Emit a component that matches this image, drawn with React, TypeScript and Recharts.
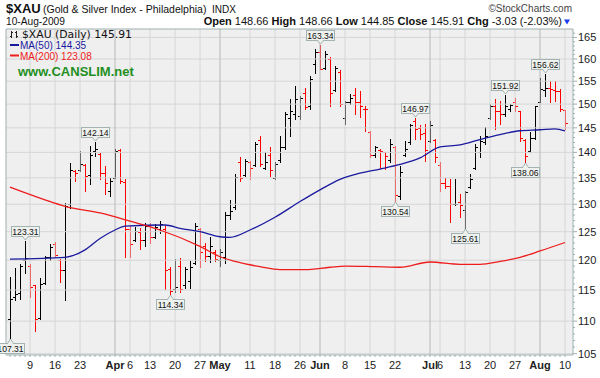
import React from 'react'
import { ComposedChart, Bar, Line, XAxis, YAxis, ReferenceLine, ReferenceArea, ReferenceDot } from 'recharts'

const FONT = "'Liberation Sans', Arial, sans-serif"
const WIDE = "'DejaVu Sans', Verdana, sans-serif"

// trading days, Mar 3 .. Aug 10 2009
const marDays = [3, 4, 5, 6, 9, 10, 11, 12, 13, 16, 17, 18, 19, 20, 23, 24, 25, 26, 27, 30, 31]
const aprDays = [1, 2, 3, 6, 7, 8, 9, 13, 14, 15, 16, 17, 20, 21, 22, 23, 24, 27, 28, 29, 30]
const mayDays = [1, 4, 5, 6, 7, 8, 11, 12, 13, 14, 15, 18, 19, 20, 21, 22, 26, 27, 28, 29]
const junDays = [1, 2, 3, 4, 5, 8, 9, 10, 11, 12, 15, 16, 17, 18, 19, 22, 23, 24, 25, 26, 29, 30]
const julDays = [1, 2, 6, 7, 8, 9, 10, 13, 14, 15, 16, 17, 20, 21, 22, 23, 24, 27, 28, 29, 30, 31]
const augDays = [3, 4, 5, 6, 7, 10]

const opens = [
  110.3, 113.9, 114.5, 120.0, 119.1, 115.8, 110.5, 116.2, 120.6, 122.9, 120.1, 118.4, 130.0, 136.3, 136.5, 137.5, 135.5, 140.2, 139.6, 136.0, 132.5,
  135.0, 140.4, 134.2, 125.5, 123.6, 125.0, 123.5, 126.0, 124.0, 125.5, 125.5, 118.5, 115.2, 119.0, 115.8, 116.5, 119.5, 125.5, 122.5, 120.8, 121.5,
  120.0, 120.5, 128.0, 129.5, 138.0, 135.5, 138.0, 137.5, 142.5, 137.0, 139.5, 135.0, 138.5, 141.0, 147.0, 148.0, 147.5, 152.5, 149.5, 158.8,
  161.5, 158.0, 160.0, 153.0, 157.0, 147.0, 150.5, 152.0, 150.5, 149.0, 144.1, 139.5, 140.5, 140.0, 138.5, 141.0, 131.5, 139.5, 142.0, 146.5, 145.0, 144.0,
  142.3, 142.5, 137.5, 134.0, 133.5, 130.0, 130.5, 129.0, 133.3, 137.0, 140.0, 142.0, 147.0, 149.5, 148.5, 148.0, 149.0, 150.5, 148.5, 142.5, 140.3, 143.0,
  150.5, 153.0, 153.5, 153.0, 152.8, 148.66,
]
const highs = [
  117.2, 118.7, 119.3, 123.31, 119.3, 115.9, 117.0, 120.7, 122.9, 123.2, 120.2, 130.2, 137.9, 136.6, 140.2, 137.6, 141.2, 142.14, 139.8, 137.3, 135.0,
  140.6, 140.6, 134.7, 126.0, 125.9, 125.6, 126.5, 126.5, 126.4, 127.0, 126.0, 118.8, 120.2, 120.4, 118.9, 119.8, 126.6, 125.6, 123.0, 124.1, 121.8,
  122.0, 128.5, 130.8, 135.7, 139.0, 138.6, 138.3, 142.0, 143.4, 140.0, 141.0, 138.0, 143.4, 148.3, 151.1, 153.9, 151.8, 153.6, 156.1, 162.2,
  163.34, 161.8, 160.4, 158.4, 157.5, 150.7, 152.1, 153.6, 152.8, 149.7, 144.4, 141.3, 140.7, 140.0, 142.7, 141.3, 137.3, 142.3, 145.8, 146.97, 145.5, 145.8,
  146.5, 142.7, 138.0, 135.0, 134.7, 134.7, 131.9, 132.5, 135.8, 141.7, 143.4, 145.2, 150.0, 151.1, 150.7, 151.92, 150.0, 151.4, 148.6, 142.7, 144.1, 149.7,
  155.8, 156.62, 155.0, 155.0, 153.2, 148.66,
]
const lows = [
  107.31, 113.4, 113.6, 117.9, 113.9, 108.5, 110.4, 116.0, 120.1, 120.7, 116.4, 113.4, 129.3, 134.4, 136.3, 132.5, 133.8, 139.2, 134.7, 131.9, 131.6,
  134.9, 134.0, 120.6, 120.6, 123.4, 122.0, 122.5, 123.0, 123.8, 124.8, 115.2, 114.34, 114.7, 114.6, 115.4, 115.4, 119.3, 118.9, 119.8, 119.7, 119.9,
  119.1, 119.5, 127.3, 129.1, 134.3, 135.4, 134.7, 137.3, 137.3, 136.7, 135.4, 134.7, 138.0, 140.7, 143.4, 146.8, 146.8, 149.0, 149.0, 156.9,
  157.8, 157.8, 149.7, 152.8, 149.7, 145.8, 150.0, 147.9, 147.2, 144.4, 139.0, 139.0, 137.0, 136.7, 138.0, 130.54, 131.0, 139.3, 141.7, 142.7, 142.7, 138.3,
  142.0, 138.0, 132.5, 133.0, 126.8, 129.8, 127.7, 125.61, 133.0, 136.7, 139.0, 141.7, 146.8, 144.8, 145.8, 147.5, 148.6, 148.6, 142.3, 138.06, 140.0, 142.7,
  150.4, 151.8, 150.4, 150.7, 148.6, 144.85,
]
const closes = [
  113.5, 114.3, 119.0, 120.3, 115.5, 110.3, 116.0, 120.5, 122.3, 120.9, 118.4, 129.6, 136.5, 136.0, 137.6, 135.3, 139.5, 140.6, 136.0, 134.1, 134.4,
  140.3, 134.4, 125.5, 122.9, 125.2, 123.5, 126.0, 124.0, 125.8, 126.3, 118.4, 114.8, 115.5, 115.2, 118.5, 118.9, 126.0, 121.5, 120.7, 122.5, 120.2,
  121.5, 128.0, 128.8, 135.2, 135.0, 138.3, 137.0, 141.7, 137.6, 138.0, 136.5, 137.6, 141.0, 147.9, 148.5, 151.1, 151.4, 149.3, 155.4, 161.5,
  157.8, 161.2, 152.5, 158.0, 150.0, 150.4, 151.4, 150.4, 149.7, 149.0, 139.5, 141.0, 140.2, 139.3, 141.7, 131.8, 136.1, 140.7, 145.5, 144.8, 143.8, 140.5,
  145.5, 139.0, 134.1, 133.5, 130.0, 130.1, 129.9, 132.2, 134.8, 141.0, 142.3, 143.4, 149.5, 148.5, 147.9, 149.7, 149.9, 149.7, 143.0, 139.3, 143.0, 149.5,
  153.2, 153.6, 153.2, 152.8, 148.94, 145.91,
]

// moving averages at sample days (day index, value)
const ma50Days = [0, 11, 15, 18, 21, 23, 31, 34, 38, 42, 44, 48, 53, 58, 62, 66, 70, 74, 78, 82, 86, 90, 94, 98, 102, 106, 109, 111]
const ma50Vals = [120.2, 120.5, 121.8, 123.8, 125.3, 126.0, 126.2, 125.6, 125.0, 124.1, 124.0, 125.3, 127.6, 130.5, 132.7, 134.7, 135.9, 136.7, 137.6, 138.9, 141.1, 141.5, 142.6, 143.6, 144.4, 144.6, 144.8, 144.35]
const ma200Days = [0, 7, 11, 18, 24, 30, 38, 42, 45, 50, 54, 59, 64, 67, 73, 78, 84, 90, 94, 98, 102, 106, 111]
const ma200Vals = [133.2, 130.8, 129.6, 128.4, 126.9, 125.3, 122.4, 120.6, 119.8, 118.9, 118.4, 118.4, 118.8, 119.0, 118.9, 118.8, 119.7, 119.3, 119.3, 119.8, 120.5, 121.6, 123.08]

const tickDays = [4, 9, 14, 21, 24, 28, 33, 38, 42, 48, 53, 58, 62, 67, 72, 77, 84, 86, 91, 96, 101, 106, 111]
const tickLabels = ['9', '16', '23', 'Apr', '6', '13', '20', '27', 'May', '11', '18', '26', 'Jun', '8', '15', '22', 'Jul', '6', '13', '20', '27', 'Aug', '10']
const monthLabels = ['Apr', 'May', 'Jun', 'Jul', 'Aug']

const priceTicks = [105, 110, 115, 120, 125, 130, 135, 140, 145, 150, 155, 160, 165]
const minorTicks = Array.from({ length: 62 }, (_, k) => 105 + k)

const peakDays = [3, 17, 62, 81, 99, 107]
const troughDays = [0, 32, 77, 91, 103]

const allDays = [...marDays, ...aprDays, ...mayDays, ...junDays, ...julDays, ...augDays]

const rows = allDays.map((_, j) => ({
  j,
  open: opens[j],
  high: highs[j],
  low: lows[j],
  close: closes[j],
  range: [lows[j], highs[j]],
  up: j === 0 || closes[j] >= closes[j - 1],
  ma50: ma50Days.includes(j) ? ma50Vals[ma50Days.indexOf(j)] : null,
  ma200: ma200Days.includes(j) ? ma200Vals[ma200Days.indexOf(j)] : null,
}))

const X_DOMAIN = [-0.8, 112.6]
const Y_DOMAIN = [104.8, 167]
const FRAME = '#9fb0b0'
const BLUE = '#1a1a9e'
const RED = '#ee1c1c'

function OhlcBar(props: any) {
  const { x, y, width, height, payload } = props
  const cx = Math.round(x + width / 2) + 0.5
  const lnH = Math.log(payload.high)
  const lnL = Math.log(payload.low)
  const toY = (p: number) => Math.round(y + ((lnH - Math.log(p)) / (lnH - lnL)) * height) + 0.5
  const color = payload.up ? '#000000' : '#ff0000'
  return (
    <g stroke={color} strokeWidth={1} shapeRendering="crispEdges">
      <line x1={cx} x2={cx} y1={Math.round(y)} y2={Math.round(y + height) + 1} />
      <line x1={cx - 2.5} x2={cx} y1={toY(payload.open)} y2={toY(payload.open)} />
      <line x1={cx} x2={cx + 2.5} y1={toY(payload.close)} y2={toY(payload.close)} />
    </g>
  )
}

function Callout({ cx, cy, value, below }: any) {
  const w = 28
  const h = 10
  const px = Math.round(cx) + 0.5
  const left = Math.round(cx - w / 2) + 0.5
  const top = below ? Math.round(cy) + 5.5 : Math.round(cy) - 4.5 - h
  const tip = below ? Math.round(cy) + 1 : Math.round(cy) - 1
  const base = below ? top : top + h
  const inner = below ? base + 1 : base - 1
  return (
    <g>
      <rect x={left} y={top} width={w} height={h} fill="#eef1ee" stroke="#a3b2b2" />
      <path d={`M${px - 3},${inner} L${px},${tip} L${px + 3},${inner} Z`} fill="#eef1ee" stroke="none" />
      <path d={`M${px - 3},${base} L${px},${tip} L${px + 3},${base}`} fill="none" stroke="#a3b2b2" />
      <text x={px} y={top + 8} textAnchor="middle" fontSize={8.6} fontFamily={FONT} fill="#111">
        {value.toFixed(2)}
      </text>
    </g>
  )
}

function XTick(props: any) {
  const { x, y, payload } = props
  const k = tickDays.indexOf(payload.value)
  const label = k >= 0 ? tickLabels[k] : null
  return (
    <g>
      <line x1={x} x2={x} y1={y} y2={y + 2} stroke={FRAME} />
      {label && (
        <text x={x} y={y + 14} textAnchor="middle" fontSize={11} fontFamily={FONT} fill="#222"
          fontWeight={monthLabels.includes(label) ? 'bold' : 'normal'}>
          {label}
        </text>
      )}
    </g>
  )
}

function YTick(props: any) {
  const { x, y, payload } = props
  const major = payload.value % 5 === 0
  return (
    <g>
      <line x1={x} x2={x + (major ? 4 : 2)} y1={y} y2={y} stroke={FRAME} />
      {major && (
        <text x={x + 5} y={y + 4} fontSize={11} fontFamily={FONT} fill="#222">
          {payload.value}
        </text>
      )}
    </g>
  )
}

function Header() {
  return (
    <svg width={600} height={378} style={{ position: 'absolute', left: 0, top: 0, pointerEvents: 'none' }}>
      <g fontFamily={FONT} fill="#111">
        <text x={6} y={13} fontSize={13} fontWeight="bold">$XAU</text>
        <text x={43} y={13} fontSize={10.5}>(Gold &amp; Silver Index - Philadelphia)</text>
        <text x={212} y={13} fontSize={10}>INDX</text>
        <text x={572} y={12} fontSize={10} textAnchor="end" fill="#444">©StockCharts.com</text>
        <text x={6} y={25} fontSize={10.2}>10-Aug-2009</text>
        <text x={562} y={25} fontSize={11} textAnchor="end">
          <tspan fontWeight="bold">Open</tspan> 148.66 <tspan fontWeight="bold">High</tspan> 148.66{' '}
          <tspan fontWeight="bold">Low</tspan> 144.85 <tspan fontWeight="bold">Close</tspan> 145.91{' '}
          <tspan fontWeight="bold">Chg</tspan> -3.03 (-2.03%)
        </text>
        <path d="M564,19.5 L570,19.5 L567,24.5 Z" fill="#1a3cf0" />

        <g stroke="#222" strokeWidth={1} shapeRendering="crispEdges">
          <line x1={11.5} x2={11.5} y1={31} y2={38} />
          <line x1={10} x2={11.5} y1={36.5} y2={36.5} />
          <line x1={11.5} x2={13} y1={32.5} y2={32.5} />
          <line x1={16.5} x2={16.5} y1={31} y2={38} />
          <line x1={15} x2={16.5} y1={32.5} y2={32.5} />
          <line x1={16.5} x2={18} y1={36.5} y2={36.5} />
        </g>
        <text x={22} y={37.5} fontSize={10.8} fontFamily={WIDE}>$XAU (Daily) 145.91</text>
        <line x1={10} x2={19} y1={45} y2={45} stroke={BLUE} strokeWidth={2} />
        <text x={20} y={48.5} fontSize={10} fill={BLUE}>MA(50) 144.35</text>
        <line x1={10} x2={19} y1={55.5} y2={55.5} stroke={RED} strokeWidth={2} />
        <text x={20} y={59.5} fontSize={10} fill={RED}>MA(200) 123.08</text>
        <text x={18} y={76} fontSize={13} fontWeight="bold" fill="#1f8f1f">www.CANSLIM.net</text>
      </g>
    </svg>
  )
}

export default function App() {
  return (
    <div style={{ position: 'fixed', left: 0, top: 0, width: 600, height: 378, background: '#ffffff' }}>
      <ComposedChart width={600} height={378} data={rows} margin={{ top: 29, right: 0, bottom: 0, left: 6 }}>
        <ReferenceArea x1={X_DOMAIN[0]} x2={X_DOMAIN[1]} y1={Y_DOMAIN[0]} y2={Y_DOMAIN[1]} fill="#efefef" fillOpacity={1} stroke="none" />
        {priceTicks.map((p) => (
          <ReferenceLine key={`h${p}`} y={p} stroke="#d6d6d6" strokeWidth={1} />
        ))}
        {tickDays.map((d, k) => (
          <ReferenceLine key={`v${d}`} x={d} stroke={monthLabels.includes(tickLabels[k]) ? '#b8b8b8' : '#d6d6d6'} strokeWidth={1} />
        ))}
        <XAxis dataKey="j" type="number" domain={X_DOMAIN} allowDataOverflow ticks={rows.map((r) => r.j)} interval={0}
          tick={<XTick />} tickLine={false} tickSize={0} tickMargin={0} axisLine={{ stroke: FRAME }} height={23} />
        <YAxis orientation="right" scale="log" domain={Y_DOMAIN} allowDataOverflow ticks={minorTicks} interval={0}
          tick={<YTick />} tickLine={false} tickSize={0} tickMargin={0} axisLine={{ stroke: FRAME }} width={27} />
        <Bar dataKey="range" shape={<OhlcBar />} barSize={4} isAnimationActive={false} />
        <Line dataKey="ma50" type="monotone" stroke={BLUE} strokeWidth={1.3} dot={false} connectNulls isAnimationActive={false} />
        <Line dataKey="ma200" type="monotone" stroke={RED} strokeWidth={1.3} dot={false} connectNulls isAnimationActive={false} />
        <ReferenceLine y={Y_DOMAIN[1]} stroke={FRAME} />
        <ReferenceLine x={X_DOMAIN[0]} stroke={FRAME} />
        {peakDays.map((d) => (
          <ReferenceDot key={`p${d}`} x={d} y={highs[d]} r={0}
            shape={(p: any) => <Callout cx={p.cx} cy={p.cy} value={highs[d]} below={false} />} />
        ))}
        {troughDays.map((d) => (
          <ReferenceDot key={`t${d}`} x={d} y={lows[d]} r={0}
            shape={(p: any) => <Callout cx={p.cx} cy={p.cy} value={lows[d]} below />} />
        ))}
      </ComposedChart>
      <Header />
    </div>
  )
}
